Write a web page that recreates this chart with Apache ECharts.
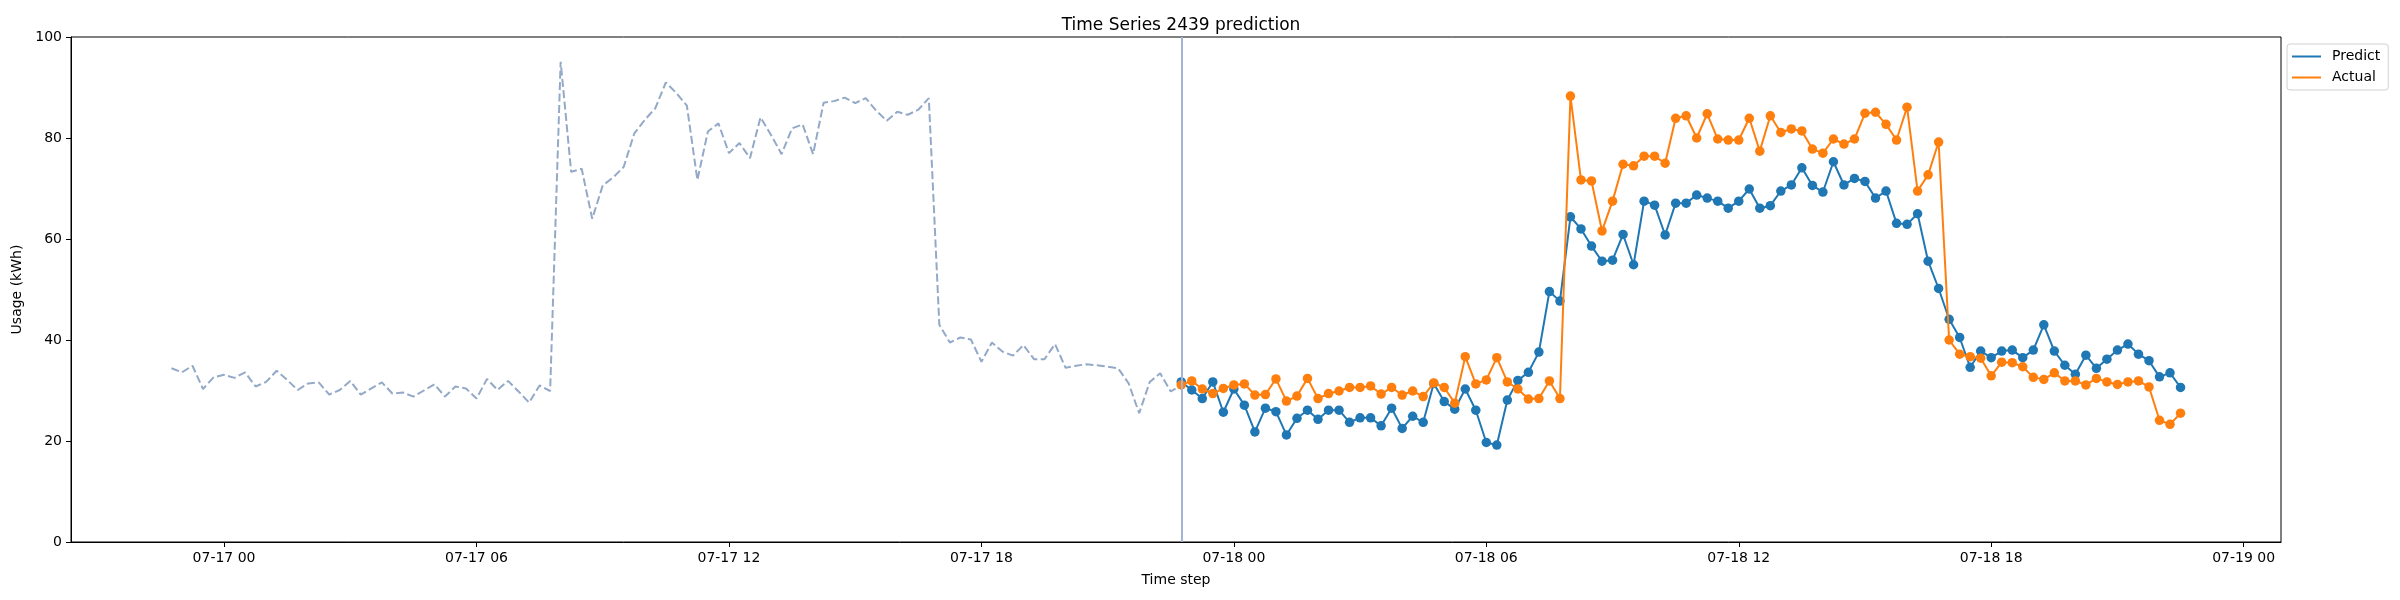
<!DOCTYPE html>
<html>
<head>
<meta charset="utf-8">
<title>Time Series 2439 prediction</title>
<script src="https://cdn.jsdelivr.net/npm/echarts@6/dist/echarts.min.js"></script>
<style>
    html, body { margin: 0; padding: 0; background: #fff; }
    #main { width: 2400px; height: 600px; }
</style>
</head>
<body>
<div id="main"></div>
<script>
// 历史数据 (07-16 22:45 起, 每 15 分钟一个点)
var historyValues = [
    34.4, 33.6, 34.9, 30.3, 32.6, 33.1, 32.5, 33.6, 30.8, 31.7, 33.9, 32.1,
    30.1, 31.4, 31.6, 29.2, 30.1, 31.9, 29.2, 30.4, 31.6, 29.4, 29.6, 28.8,
    30.0, 31.2, 28.8, 30.8, 30.4, 28.4, 32.3, 30.1, 31.9, 29.8, 27.6, 31.0,
    29.9, 95.1, 73.3, 73.9, 64.0, 70.6, 72.2, 74.3, 80.9, 83.6, 85.9, 91.0,
    88.9, 86.4, 71.7, 81.3, 82.9, 77.0, 79.0, 76.0, 84.1, 80.6, 76.8, 81.9,
    82.7, 76.8, 87.0, 87.3, 88.0, 86.9, 87.9, 85.4, 83.4, 85.2, 84.6,
    85.6, 87.9, 43.0, 39.5, 40.5, 40.1, 35.7, 39.5, 37.7, 36.9, 39.0, 36.2,
    36.2, 39.2, 34.5, 34.9, 35.2, 35.0, 34.7, 34.4, 31.4, 25.5, 31.7, 33.4,
    29.8, 31.1
];

// 预测值 (07-17 22:45 起)
var predictValues = [
    31.7, 30.1, 28.4, 31.7, 25.7, 30.3, 27.1, 21.8, 26.5, 25.8, 21.2, 24.5,
    26.1, 24.3, 26.1, 26.1, 23.7, 24.6, 24.6, 23.0, 26.5, 22.5, 24.9, 23.7,
    31.4, 27.8, 26.3, 30.3, 26.1, 19.7, 19.2, 28.1,
    32.0, 33.6, 37.6, 49.6, 47.7, 64.4, 62.0, 58.6, 55.6, 55.8, 60.9, 54.9,
    67.5, 66.7, 60.8, 67.1, 67.1, 68.7, 68.1, 67.5, 66.1, 67.5, 69.9, 66.1,
    66.6, 69.5, 70.7, 74.1, 70.6, 69.3, 75.3, 70.7,
    72.0, 71.4, 68.1, 69.5, 63.1, 62.9, 65.0, 55.6, 50.2, 44.1, 40.5, 34.6,
    37.8, 36.5, 37.8, 38.0, 36.5, 38.0, 43.0, 37.8, 35.0, 33.2, 37.0, 34.4,
    36.2, 38.0, 39.2, 37.2, 35.9, 32.7, 33.5, 30.6
];

// 实际值
var actualValues = [
    31.1, 31.9, 30.3, 29.4, 30.4, 31.1, 31.3, 29.1, 29.2, 32.3, 27.9, 28.9,
    32.4, 28.4, 29.4, 29.9, 30.6, 30.6, 30.9, 29.3, 30.6, 29.1, 29.9, 28.8,
    31.5, 30.6, 27.5, 36.7, 31.3, 32.1, 36.5, 31.7,
    30.3, 28.3, 28.4, 31.9, 28.4, 88.3, 71.7, 71.5, 61.6, 67.5, 74.8, 74.5,
    76.4, 76.4, 75.0, 83.9, 84.4, 80.0, 84.8, 79.8, 79.6, 79.6, 83.9, 77.4,
    84.4, 81.1, 81.8, 81.4, 77.8, 77.0, 79.8, 78.8,
    79.8, 84.9, 85.1, 82.7, 79.6, 86.1, 69.5, 72.7, 79.2, 40.0, 37.2, 36.7,
    36.4, 32.9, 35.6, 35.5, 34.7, 32.6, 32.2, 33.5, 31.9, 31.9, 31.1, 32.4,
    31.7, 31.2, 31.7, 31.9, 30.7, 24.1, 23.3, 25.5
];

// x 轴刻度 (以 07-17 00:00 为 0 的小时数)
var xTickHours = [0, 6, 12, 18, 24, 30, 36, 42, 48];
var xTickLabels = ['07-17 00', '07-17 06', '07-17 12', '07-17 18',
    '07-18 00', '07-18 06', '07-18 12', '07-18 18', '07-19 00'];
var yTicks = [0, 20, 40, 60, 80, 100];

var historyStart = -1.25;   // 07-16 22:45
var predictStart = 22.75;   // 07-17 22:45
var step = 0.25;            // 15 分钟

function toPairs(values, start) {
    return values.map(function (v, i) { return [start + i * step, v]; });
}

(function () {
    var myChart = echarts.init(document.getElementById('main'));
    var font = 'DejaVu Sans';

    option = {
        backgroundColor: '#fff',
        animation: false,
        textStyle: { fontFamily: font, color: '#000' },
        title: {
            text: 'Time Series 2439 prediction',
            left: 1176,
            textAlign: 'center',
            top: 12,
            textStyle: { fontFamily: font, fontSize: 17, fontWeight: 'normal', color: '#000' }
        },
        legend: {
            orient: 'vertical',
            left: 2287,
            top: 44,
            padding: [5, 8, 5, 5],
            itemWidth: 29,
            itemHeight: 2,
            itemGap: 6,
            icon: 'rect',
            borderColor: '#d0d0d0',
            borderWidth: 1,
            borderRadius: 3,
            backgroundColor: '#fff',
            textStyle: { fontFamily: font, fontSize: 14, lineHeight: 15, color: '#000', padding: [0, 0, 0, 6] },
            data: ['Predict', 'Actual']
        },
        grid: {
            left: 71,
            right: 119,
            top: 37,
            bottom: 58,
            show: true,
            borderColor: '#000',
            borderWidth: 1
        },
        xAxis: {
            type: 'value',
            min: historyStart - 47.75 * 0.05,
            max: predictStart + 95 * step + 47.75 * 0.05,
            name: 'Time step',
            nameLocation: 'middle',
            nameGap: 31,
            nameTextStyle: { fontFamily: font, fontSize: 14, color: '#000' },
            splitLine: { show: false },
            axisLine: { show: true, onZero: false, lineStyle: { color: '#000', width: 1 } },
            axisTick: { show: true, length: 5, lineStyle: { color: '#000' }, customValues: xTickHours },
            axisLabel: {
                fontFamily: font, fontSize: 14, color: '#000', margin: 9,
                customValues: xTickHours,
                formatter: function (v) {
                    var k = xTickHours.indexOf(Math.round(v));
                    return k >= 0 ? xTickLabels[k] : '';
                }
            }
        },
        yAxis: {
            type: 'value',
            min: 0,
            max: 100,
            interval: 20,
            name: 'Usage (kWh)',
            nameLocation: 'middle',
            nameGap: 45,
            nameTextStyle: { fontFamily: font, fontSize: 14, color: '#000' },
            splitLine: { show: false },
            axisLine: { show: true, onZero: false, lineStyle: { color: '#000', width: 1 } },
            axisTick: { show: true, length: 5, lineStyle: { color: '#000' } },
            axisLabel: {
                fontFamily: font, fontSize: 14, color: '#000', margin: 9,
                formatter: function (v) { return yTicks.indexOf(v) >= 0 ? String(v) : ''; }
            }
        },
        series: [
            {
                name: 'History',
                type: 'line',
                data: toPairs(historyValues, historyStart),
                showSymbol: false,
                symbol: 'none',
                lineStyle: { color: '#93a9c7', width: 2, type: [8, 3.4] },
                z: 2
            },
            {
                name: 'Predict',
                type: 'line',
                data: toPairs(predictValues, predictStart),
                symbol: 'circle',
                symbolSize: 9.5,
                color: '#1f77b4',
                itemStyle: { color: '#1f77b4' },
                lineStyle: { color: '#1f77b4', width: 2 },
                markLine: {
                    silent: true,
                    symbol: 'none',
                    label: { show: false },
                    lineStyle: { color: '#a3b3d3', width: 2, type: 'solid' },
                    data: [{ xAxis: predictStart }]
                },
                z: 3
            },
            {
                name: 'Actual',
                type: 'line',
                data: toPairs(actualValues, predictStart),
                symbol: 'circle',
                symbolSize: 9.5,
                color: '#ff7f0e',
                itemStyle: { color: '#ff7f0e' },
                lineStyle: { color: '#ff7f0e', width: 2 },
                z: 4
            }
        ]
    };

    myChart.setOption(option);
})();
</script>
</body>
</html>
